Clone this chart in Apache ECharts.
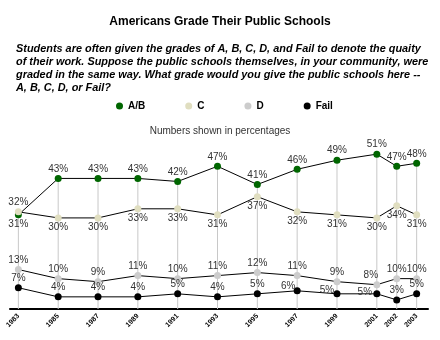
<!DOCTYPE html>
<html>
<head>
<meta charset="utf-8">
<script src="https://cdn.jsdelivr.net/npm/echarts@6/dist/echarts.min.js"></script>
<style>
  html, body { margin: 0; padding: 0; background: #ffffff; }
  #chart { width: 440px; height: 340px; }
</style>
</head>
<body>
<div id="chart"></div>
<script>
// Survey years and the share of respondents giving each grade (%)
const years = [1983, 1985, 1987, 1989, 1991, 1993, 1995, 1997, 1999, 2001, 2002, 2003];
const gradeAB = [31, 43, 43, 43, 42, 47, 41, 46, 49, 51, 47, 48];
const gradeC = [32, 30, 30, 33, 33, 31, 37, 32, 31, 30, 34, 31];
const gradeD = [13, 10, 9, 11, 10, 11, 12, 11, 9, 8, 10, 10];
const gradeFail = [7, 4, 4, 4, 5, 4, 5, 6, 5, 5, 3, 5];
const seriesNames = ['A/B', 'C', 'D', 'Fail'];

const FONT = '"Liberation Sans", Arial, sans-serif';
const colors = { 'A/B': '#006600', 'C': '#e0dec0', 'D': '#cccccc', 'Fail': '#000000' };

// Per-point label tweaks where labels would collide with neighbours
function points(values, tweak) {
  return values.map((v, i) => {
    const item = { value: [years[i], v] };
    const t = tweak && tweak(years[i]);
    if (t) item.label = t;
    return item;
  });
}

// Vertical guide from the axis up to the highest of the two upper marks
const guideHeights = gradeAB.map((v, i) => Math.max(v, gradeC[i]));

const labelBase = {
  show: true,
  formatter: p => p.value[1] + '%',
  fontFamily: FONT,
  fontSize: 10,
  color: '#333333',
  distance: 1
};

function lineSeries(name, values, position, tweak) {
  return {
    name: name,
    type: 'line',
    data: points(values, tweak),
    symbol: 'circle',
    symbolSize: 7,
    z: 3,
    itemStyle: { color: colors[name] },
    lineStyle: { color: '#000000', width: 1 },
    label: Object.assign({}, labelBase, { position: position }),
    emphasis: { disabled: true },
    animation: false
  };
}

const chart = echarts.init(document.getElementById('chart'), null, { renderer: 'canvas' });

chart.setOption({
  backgroundColor: '#ffffff',
  animation: false,
  title: [
    {
      text: 'Americans Grade Their Public Schools',
      left: 'center',
      top: 11,
      textStyle: { fontFamily: FONT, fontSize: 12, fontWeight: 'bold', color: '#000000' }
    },
    {
      text: 'Students are often given the grades of A, B, C, D, and Fail to denote the quaity\n' +
            'of their work. Suppose the public schools themselves, in your community, were\n' +
            'graded in the same way. What grade would you give the public schools here --\n' +
            'A, B, C, D, or Fail?',
      left: 11,
      top: 37,
      textStyle: { fontFamily: FONT, fontSize: 10.9, fontWeight: 'bold', fontStyle: 'italic',
                   color: '#000000', lineHeight: 13 }
    },
    {
      text: 'Numbers shown in percentages',
      left: 'center',
      top: 121,
      textStyle: { fontFamily: FONT, fontSize: 10, fontWeight: 'normal', color: '#333333' }
    }
  ],
  legend: {
    data: seriesNames,
    left: 111,
    top: 96,
    icon: 'circle',
    itemWidth: 7,
    itemHeight: 7,
    itemGap: 40,
    textStyle: { fontFamily: FONT, fontSize: 10, fontWeight: 'bold', color: '#000000' },
    selectedMode: false
  },
  grid: { left: 10, right: 12, top: 142, bottom: 31, containLabel: false },
  xAxis: {
    type: 'value',
    min: 1982.58,
    max: 2003.57,
    splitLine: { show: false },
    axisLine: { show: true, lineStyle: { color: '#000000', width: 2 } },
    axisTick: { show: false },
    axisLabel: {
      customValues: years,
      rotate: 45,
      margin: 6,
      formatter: v => String(v),
      fontFamily: FONT,
      fontSize: 7,
      fontWeight: 'bold',
      color: '#000000'
    }
  },
  yAxis: {
    type: 'value',
    min: 0,
    max: 55,
    show: false,
    splitLine: { show: false }
  },
  series: [
    {
      name: 'guide',
      type: 'bar',
      data: guideHeights.map((v, i) => [years[i], v]),
      barWidth: 1,
      itemStyle: { color: '#c8c8c8' },
      z: 1,
      silent: true,
      animation: false
    },
    lineSeries('A/B', gradeAB, 'top', y => (y === 1983 ? { position: 'bottom' } : null)),
    lineSeries('C', gradeC, 'bottom', y => (y === 1983 ? { position: 'top' } : null)),
    lineSeries('D', gradeD, 'top', y => (y === 2001 ? { offset: [-6, 0] } : null)),
    lineSeries('Fail', gradeFail, 'top', y => {
      if (y === 1997) return { offset: [-9, 5] };
      if (y === 1999) return { offset: [-10, 6] };
      if (y === 2001) return { offset: [-12, 8] };
      return null;
    })
  ]
});
</script>
</body>
</html>
